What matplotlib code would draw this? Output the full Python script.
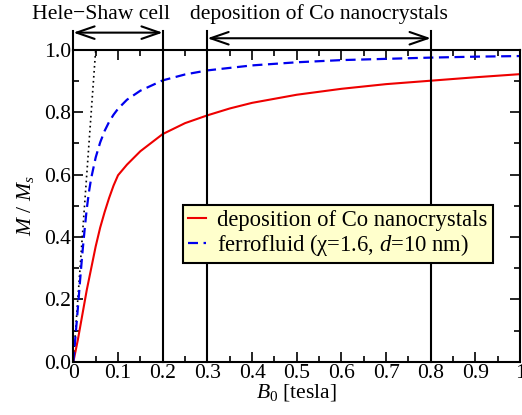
import matplotlib
matplotlib.use("Agg")
import matplotlib.pyplot as plt
from matplotlib.ticker import MultipleLocator, FixedLocator

plt.rcParams['font.family'] = ['Liberation Serif', 'DejaVu Serif']
plt.rcParams['mathtext.fontset'] = 'custom'
plt.rcParams['mathtext.rm'] = 'Liberation Serif'
plt.rcParams['mathtext.it'] = 'Liberation Serif:italic'

# data
red_B = [0.0, 0.01, 0.02, 0.03, 0.04, 0.05, 0.06, 0.07, 0.08, 0.09, 0.10, 0.12, 0.15,
         0.20, 0.25, 0.30, 0.35, 0.40, 0.50, 0.60, 0.70, 0.80, 0.90, 1.00]
red_M = [0.0, 0.07, 0.15, 0.23, 0.30, 0.37, 0.43, 0.48, 0.525, 0.565, 0.598, 0.632, 0.675,
         0.73, 0.765, 0.79, 0.812, 0.83, 0.856, 0.875, 0.89, 0.901, 0.912, 0.922]
blue_B = [0.0, 0.005, 0.01, 0.015, 0.02, 0.025, 0.03, 0.035, 0.04, 0.05, 0.06, 0.07, 0.08,
          0.09, 0.10, 0.12, 0.15, 0.20, 0.25, 0.30, 0.40, 0.50, 0.60, 0.70, 0.80, 0.90, 1.00]
blue_M = [0.0, 0.085, 0.17, 0.26, 0.345, 0.42, 0.49, 0.545, 0.589, 0.655, 0.703, 0.740,
          0.769, 0.792, 0.811, 0.840, 0.869, 0.902, 0.921, 0.934, 0.950, 0.960, 0.967, 0.971,
          0.975, 0.978, 0.980]
lin_B = [0.0, 0.05]
lin_M = [0.0, 1.0]
vlines_B = [0.2, 0.3, 0.8]
ranges = [(0.0, 0.2, "Hele\u2212Shaw cell"), (0.3, 0.8, "deposition of Co nanocrystals")]
xticks = [0, 0.1, 0.2, 0.3, 0.4, 0.5, 0.6, 0.7, 0.8, 0.9, 1.0]
xticklabels = ["0", "0.1", "0.2", "0.3", "0.4", "0.5", "0.6", "0.7", "0.8", "0.9", "1"]
yticks = [0.0, 0.2, 0.4, 0.6, 0.8, 1.0]
yticklabels = ["0.0", "0.2", "0.4", "0.6", "0.8", "1.0"]

FS = 15.6

fig = plt.figure(figsize=(5.22, 4.15), dpi=100)
ax = fig.add_axes([0.1405, 0.128, 0.856, 0.752])
ax.set_xlim(0, 1)
ax.set_ylim(0, 1)

ax.plot(lin_B, lin_M, color='black', ls=(0, (1, 2)), lw=1.2)
ax.plot(red_B, red_M, color='#ee0000', lw=1.5, label='deposition of Co nanocrystals')
ax.plot(blue_B, blue_M, color='#0000ee', lw=1.6, ls=(0, (4.5, 2.5)),
        label='ferrofluid (\u03c7=1.6, $d$=10 nm)')

for b in vlines_B:
    ax.plot([b, b], [0, 1.06], color='black', lw=1.5, clip_on=False, zorder=3)
ax.plot([0, 0], [1.0, 1.06], color='black', lw=1.5, clip_on=False, zorder=3)

arrow_y = [1.055, 1.037]
for (a, b, t), yy in zip(ranges, arrow_y):
    ax.annotate('', xy=(a, yy), xytext=(b, yy), xycoords='data', annotation_clip=False,
                arrowprops=dict(arrowstyle='<->,head_length=1.3,head_width=0.45', color='black', lw=1.5,
                                shrinkA=0, shrinkB=0))
ax.text(0.063, 1.113, ranges[0][2], ha='center', va='center', fontsize=FS)
ax.text(0.549, 1.113, ranges[1][2], ha='center', va='center', fontsize=FS)

ax.xaxis.set_major_locator(FixedLocator(xticks))
ax.set_xticklabels(xticklabels)
ax.xaxis.set_minor_locator(MultipleLocator(0.05))
ax.yaxis.set_major_locator(FixedLocator(yticks))
ax.set_yticklabels(yticklabels)
ax.yaxis.set_minor_locator(MultipleLocator(0.1))
ax.tick_params(which='both', direction='in', top=True, right=True, labelsize=FS, width=1.2)
ax.tick_params(which='major', length=7, pad=1.5)
ax.tick_params(which='minor', length=4)
for s in ax.spines.values():
    s.set_linewidth(1.5)

ax.set_xlabel('$B_0$ [tesla]', fontsize=FS, labelpad=-1)
ax.set_ylabel('$M$ / $M_s$', fontsize=FS, labelpad=6)

leg = ax.legend(loc='upper left', bbox_to_anchor=(0.245, 0.503), fontsize=16.3,
                frameon=True, fancybox=False, handlelength=0.8, handletextpad=0.5,
                borderpad=0.22, labelspacing=0.05, borderaxespad=0)
leg.get_frame().set_facecolor('#ffffcc')
leg.get_frame().set_edgecolor('black')
leg.get_frame().set_linewidth(1.5)
leg.get_frame().set_alpha(1)

fig.savefig('out.png', dpi=100)
